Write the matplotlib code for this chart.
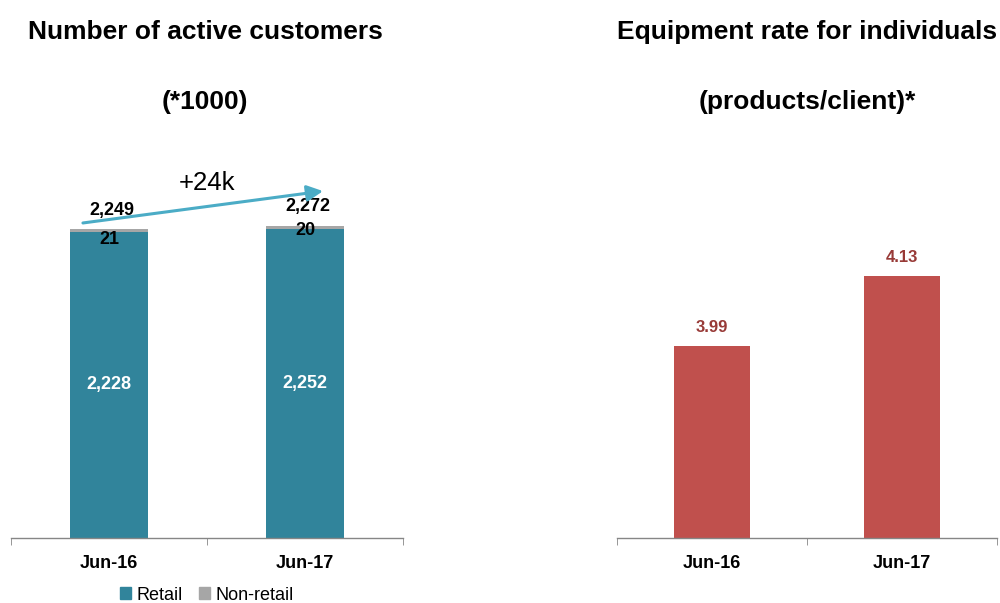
# -*- coding: utf8
'''
Active customers (stacked retail / non-retail) and equipment rate
for individuals, Jun-16 vs Jun-17.
'''
import matplotlib
matplotlib.use('Agg')
from matplotlib import pyplot as plt
from matplotlib.patches import Patch

periods = ['Jun-16', 'Jun-17']
retail = [2228, 2252]
non_retail = [21, 20]
totals = [2249, 2272]
equip_rate = [3.99, 4.13]
growth_label = '+24k'

TEAL = '#31849B'
GREY = '#A6A6A6'
RED = '#C0504D'
DARK_RED = '#983A37'
ARROW = '#4BACC6'
AXIS = '#868686'

plt.rcParams['font.family'] = ['Liberation Sans', 'DejaVu Sans']

fig = plt.figure(figsize=(10, 6.03), dpi=100)


def style_axis(ax):
    for side in ('left', 'right', 'top'):
        ax.spines[side].set_visible(False)
    ax.spines['bottom'].set_color(AXIS)
    ax.spines['bottom'].set_linewidth(1.0)
    ax.set_yticks([])
    ax.set_xlim(-0.5, len(periods) - 0.5)
    ax.set_xticks(range(len(periods)))
    ax.set_xticklabels(periods, fontsize=13, fontweight='bold')
    ax.tick_params(axis='x', which='major', length=0, pad=12)
    ax.set_xticks([i - 0.5 for i in range(len(periods) + 1)], minor=True)
    ax.tick_params(axis='x', which='minor', length=5, color=AXIS, direction='out')


# left: active customers
ax1 = fig.add_axes([0.011, 0.1078, 0.392, 0.6434])
x = range(len(periods))
ax1.bar(x, retail, width=0.4, color=TEAL)
ax1.bar(x, non_retail, width=0.4, bottom=retail, color=GREY)
ax1.set_ylim(0, 2824)
style_axis(ax1)

small_dy = (-73, -31)
for i in x:
    ax1.text(i, retail[i] / 2, '{:,}'.format(retail[i]), ha='center', va='center',
             color='white', fontsize=13, fontweight='bold')
    ax1.text(i, totals[i] + small_dy[i], '{:,}'.format(non_retail[i]), ha='center',
             va='center', color='black', fontsize=13, fontweight='bold')
    ax1.text(i + 0.015, totals[i] + 138, '{:,}'.format(totals[i]),
             ha='center', va='center', color='black', fontsize=13, fontweight='bold')

ax1.annotate('', xy=(1.092, totals[1] + 253), xytext=(-0.133, totals[0] + 44),
             arrowprops=dict(arrowstyle='-|>', color=ARROW, lw=2.2,
                             mutation_scale=24, shrinkA=0, shrinkB=0))
ax1.text(0.5, totals[1] + 310, growth_label, ha='center', va='center', fontsize=18.5)

ax1.legend(handles=[Patch(color=TEAL, label='Retail'),
                    Patch(color=GREY, label='Non-retail')],
           loc='center', bbox_to_anchor=(0.5, -0.147), ncol=2, frameon=False,
           fontsize=13, handlelength=0.6, handleheight=0.6, handletextpad=0.3,
           columnspacing=0.9, borderpad=0.1)

# right: equipment rate
ax2 = fig.add_axes([0.617, 0.1078, 0.380, 0.6434])
ax2.bar(x, equip_rate, width=0.4, color=RED)
ax2.set_ylim(3.606, 4.382)
style_axis(ax2)
for i in x:
    ax2.text(i, equip_rate[i] + 0.037, '{:.2f}'.format(equip_rate[i]), ha='center',
             va='center', color=DARK_RED, fontsize=12, fontweight='bold')

fig.text(0.205, 0.947, 'Number of active customers', ha='center', va='center',
         fontsize=19, fontweight='bold')
fig.text(0.205, 0.831, '(*1000)', ha='center', va='center',
         fontsize=19, fontweight='bold')
fig.text(0.807, 0.947, 'Equipment rate for individuals', ha='center', va='center',
         fontsize=19, fontweight='bold')
fig.text(0.807, 0.831, '(products/client)*', ha='center', va='center',
         fontsize=19, fontweight='bold')

fig.savefig('out.png', dpi=100)
